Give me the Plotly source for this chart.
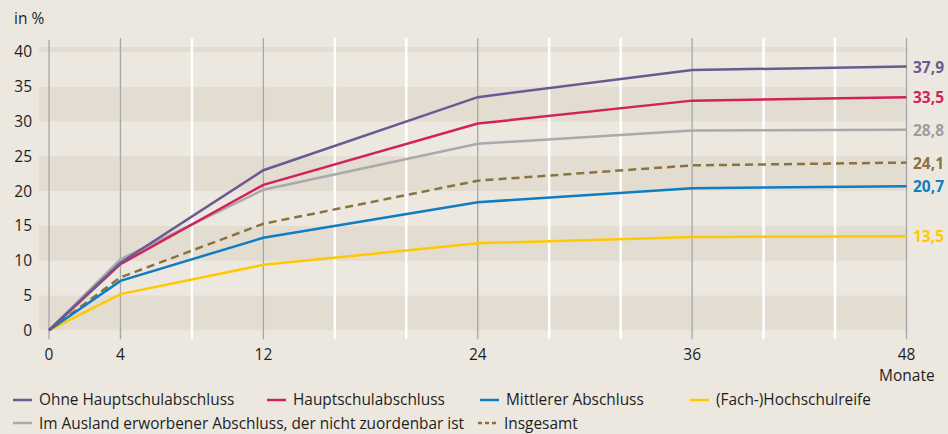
import plotly.graph_objects as go

# Months after leaving school and share (in %) per school-leaving qualification
months = [0, 4, 12, 24, 36, 48]
ohne_hs = [0, 9.7, 23.0, 33.5, 37.4, 37.9]
hauptschul = [0, 9.5, 20.9, 29.7, 33.0, 33.5]
mittlerer = [0, 7.1, 13.3, 18.4, 20.4, 20.7]
hochschulreife = [0, 5.2, 9.4, 12.5, 13.4, 13.5]
ausland = [0, 10.2, 20.2, 26.8, 28.7, 28.8]
insgesamt = [0, 7.6, 15.3, 21.5, 23.7, 24.1]

end_labels = ["37,9", "33,5", "28,8", "24,1", "20,7", "13,5"]
y_ticks = [0, 5, 10, 15, 20, 25, 30, 35, 40]
x_ticks = [0, 4, 12, 24, 36, 48]
minor_x = [8, 16, 20, 28, 32, 40, 44]

BG = "#ECE8DF"
BAND = "#E3DDD1"
FONT = "Open Sans"
TEXT = "#1E1E1E"

W, H = 948, 434
L, R, T, B = 39, 39, 38, 94
PW, PH = W - L - R, H - T - B


def px_x(px):
    return (px - L) / PW


def px_y(py):
    return (H - B - py) / PH


series = [
    ("Ohne Hauptschulabschluss", ohne_hs, "#6A5A93", "solid"),
    ("Hauptschulabschluss", hauptschul, "#D2225A", "solid"),
    ("Mittlerer Abschluss", mittlerer, "#0E7DC2", "solid"),
    ("(Fach-)Hochschulreife", hochschulreife, "#FFC800", "solid"),
    ("Im Ausland erworbener Abschluss, der nicht zuordenbar ist", ausland, "#A9A9AE", "solid"),
    ("Insgesamt", insgesamt, "#8A733E", "8px,5px"),
]

fig = go.Figure()

# drawing order: grey and dashed under the coloured lines
for i in [4, 5, 3, 2, 1, 0]:
    name, vals, col, dash = series[i]
    fig.add_trace(go.Scatter(
        x=months, y=vals, mode="lines", name=name,
        line=dict(color=col, width=2.5, dash=dash),
        showlegend=False, hoverinfo="x+y+name",
    ))

shapes = []
# horizontal bands
for lo in [0, 10, 20, 30, 40]:
    hi = min(lo + 5, 40.7)
    shapes.append(dict(type="rect", xref="x", yref="y", x0=-0.56, x1=48.05,
                       y0=lo, y1=hi, fillcolor=BAND, line_width=0, layer="below"))
# white minor verticals
for m in minor_x:
    shapes.append(dict(type="line", xref="x", yref="y", x0=m, x1=m, y0=-1.3, y1=42.2,
                       line=dict(color="#FFFFFF", width=2.5), layer="below"))
# grey major verticals
for m in x_ticks:
    top = 41.7 if m == 0 else 42.3
    shapes.append(dict(type="line", xref="x", yref="y", x0=m, x1=m, y0=-1.3, y1=top,
                       line=dict(color="#A7A7AA", width=1.3), layer="below"))

annotations = []
# end-value labels
for lab, si in zip(end_labels, [0, 1, 4, 5, 2, 3]):
    name, vals, col, dash = series[si]
    lab_col = "#9C9CA0" if si == 4 else col
    annotations.append(dict(x=48, y=vals[-1], xref="x", yref="y", text=lab,
                            showarrow=False, xanchor="left", yanchor="middle", xshift=4,
                            font=dict(family=FONT, size=15.5, color=lab_col, weight="bold")))

annotations.append(dict(x=px_x(12), y=px_y(18), xref="paper", yref="paper", text="in %",
                        showarrow=False, xanchor="left", yanchor="middle",
                        font=dict(family=FONT, size=15.5, color=TEXT)))
annotations.append(dict(x=48, y=-1.4, xref="x", yref="y", text="Monate", showarrow=False,
                        xanchor="center", yanchor="top", yshift=-22,
                        font=dict(family=FONT, size=15.5, color=TEXT)))

# legend drawn as short line samples with labels
legend_items = [
    (0, 13, 400), (1, 267, 400), (2, 480, 400), (3, 690, 400),
    (4, 13, 423), (5, 478, 423),
]
for si, px, py in legend_items:
    name, vals, col, dash = series[si]
    shapes.append(dict(type="line", xref="paper", yref="paper",
                       x0=px_x(px), x1=px_x(px + 19), y0=px_y(py), y1=px_y(py),
                       line=dict(color=col, width=2.5,
                                 dash="4px,3px" if dash != "solid" else "solid")))
    annotations.append(dict(x=px_x(px + 24), y=px_y(py), xref="paper", yref="paper",
                            text=name, showarrow=False, xanchor="left", yanchor="middle",
                            font=dict(family=FONT, size=15.4, color=TEXT)))

fig.update_layout(
    width=W, height=H,
    margin=dict(l=L, r=R, t=T, b=B),
    paper_bgcolor=BG, plot_bgcolor=BG,
    shapes=shapes, annotations=annotations,
    xaxis=dict(range=[-0.56, 48.14], tickvals=x_ticks, ticktext=[str(v) for v in x_ticks],
               showgrid=False, zeroline=False, showline=False, ticks="",
               ticklabelstandoff=3,
               tickfont=dict(family=FONT, size=15.5, color=TEXT)),
    yaxis=dict(range=[-1.4, 42], tickvals=y_ticks, ticktext=[str(v) for v in y_ticks],
               showgrid=False, zeroline=False, showline=False, ticks="",
               ticklabelstandoff=6,
               tickfont=dict(family=FONT, size=15.5, color=TEXT)),
    font=dict(family=FONT),
)

fig.write_html("out.html")
